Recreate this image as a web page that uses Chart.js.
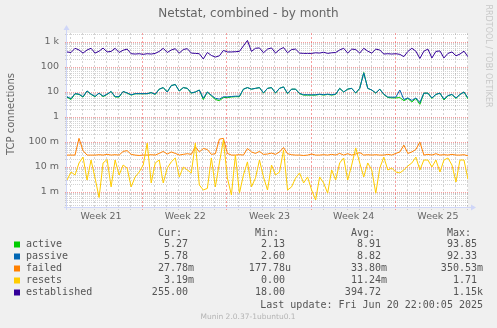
<!DOCTYPE html>
<html lang="en">
<head>
<meta charset="UTF-8">
<title>Netstat, combined - by month</title>
<style>
  body { margin: 0; background: #f0f0f0; }
  #wrap { position: relative; width: 497px; height: 328px; }
</style>
</head>
<body>
<div id="wrap"><canvas id="netstatChart"></canvas></div>

<script src="https://cdn.jsdelivr.net/npm/chart.js"></script>
<script>
// x axis is in days from the left edge of the graph, one sample every 1/3 day
const STEP = 1 / 3;
const weekLabels = ['Week 21', 'Week 22', 'Week 23', 'Week 24', 'Week 25'];
const weekStarts = [6.33, 13.33, 20.33, 27.33];
const yTickValues = [0.001, 0.01, 0.1, 1, 10, 100, 1000];
const yTickLabels = ['1 m', '10 m', '100 m', '1', '10', '100', '1 k'];

const active = [6.2, 5.0, 8.5, 8.0, 6.3, 11, 8, 6.5, 9, 6.5,
  8, 10.5, 6.3, 6.3, 10.5, 9, 7.5, 8.5, 8.5, 8.5,
  8.5, 9.5, 8, 13, 15, 10, 18, 20, 11, 15,
  14, 9, 10, 12, 5, 10, 7, 5, 4.5, 6,
  6, 6.3, 6.5, 6.5, 13, 15, 13, 14, 15, 9,
  14, 15, 9, 14, 16, 8.5, 13, 13, 8.5, 7.5,
  7.5, 7.5, 7.5, 8, 7.5, 8, 7.5, 8, 14, 10,
  13, 14, 9, 14, 60, 14, 12, 9, 13, 8,
  6, 5.8, 5.8, 6, 4.5, 5.5, 4, 5.5, 3.2, 9,
  9, 5.5, 8, 9, 4.8, 7, 8, 5.5, 8, 10, 5.3];

const passive = [6.5, 5.4, 8.6, 8.2, 6.5, 11, 8.2, 6.7, 9, 6.8,
  8.2, 10.5, 6.5, 6.6, 10.5, 9.2, 7.7, 8.6, 8.6, 8.6,
  8.6, 9.4, 8.2, 13, 15, 10, 18, 20, 11, 15,
  14, 9.2, 10, 12, 5.6, 10, 7.4, 5.6, 5.2, 6.4,
  6.4, 6.6, 6.8, 6.8, 13, 15, 13, 14, 15, 9.2,
  14, 15, 9.2, 14, 16, 8.8, 13, 13, 8.8, 7.8,
  7.8, 7.7, 7.8, 8.2, 7.8, 8.2, 7.8, 8.2, 14, 10,
  13, 14, 9.2, 14, 58, 14, 12, 9.2, 13, 8.2,
  6.3, 6.2, 6.2, 12, 5, 5.8, 4.6, 5.8, 3.8, 9,
  9, 5.8, 8, 9, 5.2, 7.2, 8, 5.8, 8, 10, 5.8];

const failed = [0.03, 0.03, 0.03, 0.14, 0.045, 0.03, 0.03, 0.03, 0.031, 0.03,
  0.032, 0.03, 0.031, 0.03, 0.042, 0.045, 0.032, 0.03, 0.029, 0.03,
  0.03, 0.031, 0.03, 0.035, 0.042, 0.033, 0.04, 0.035, 0.03, 0.032,
  0.034, 0.032, 0.065, 0.04, 0.055, 0.05, 0.032, 0.034, 0.13, 0.14,
  0.035, 0.03, 0.03, 0.031, 0.03, 0.055, 0.04, 0.035, 0.042, 0.032,
  0.033, 0.036, 0.032, 0.04, 0.06, 0.034, 0.031, 0.03, 0.03, 0.029,
  0.03, 0.033, 0.03, 0.03, 0.031, 0.03, 0.032, 0.03, 0.035, 0.03,
  0.034, 0.03, 0.033, 0.038, 0.03, 0.031, 0.03, 0.031, 0.03, 0.03,
  0.032, 0.03, 0.035, 0.04, 0.075, 0.035, 0.04, 0.05, 0.1, 0.03,
  0.032, 0.03, 0.034, 0.03, 0.031, 0.03, 0.032, 0.03, 0.03, 0.031, 0.028];

const resets = [0.003, 0.0063, 0.0048, 0.0145, 0.025, 0.003, 0.019, 0.0036, 0.0006, 0.0145,
  0.02, 0.0016, 0.019, 0.0048, 0.012, 0.009, 0.0016, 0.004, 0.0063, 0.012,
  0.09, 0.0023, 0.0145, 0.019, 0.0023, 0.009, 0.016, 0.023, 0.004, 0.01,
  0.0076, 0.0058, 0.09, 0.0019, 0.0012, 0.0014, 0.023, 0.0016, 0.0145, 0.12,
  0.0036, 0.00076, 0.03, 0.0009, 0.0048, 0.016, 0.0016, 0.0036, 0.019, 0.004,
  0.0012, 0.012, 0.0048, 0.0063, 0.048, 0.0012, 0.0016, 0.0036, 0.0058, 0.0023,
  0.004, 0.0012, 0.00048, 0.004, 0.0023, 0.0009, 0.0076, 0.003, 0.0145, 0.023,
  0.003, 0.012, 0.058, 0.0145, 0.004, 0.0145, 0.0076, 0.0009, 0.009, 0.025,
  0.0076, 0.009, 0.0063, 0.0058, 0.0076, 0.011, 0.0145, 0.025, 0.0076, 0.019,
  0.019, 0.01, 0.019, 0.0063, 0.019, 0.023, 0.012, 0.0025, 0.019, 0.019, 0.0032];

const established = [400, 380, 560, 480, 360, 480, 560, 360, 430, 570,
  400, 420, 560, 380, 470, 520, 340, 330, 340, 320,
  340, 330, 350, 420, 560, 380, 480, 540, 360, 500,
  540, 360, 350, 340, 210, 380, 290, 250, 280, 460,
  400, 400, 410, 420, 700, 1150, 420, 560, 580, 370,
  520, 580, 360, 500, 600, 370, 500, 520, 360, 350,
  350, 350, 370, 360, 390, 350, 370, 380, 480, 560,
  360, 520, 500, 360, 560, 430, 360, 520, 480, 330,
  340, 330, 340, 320, 260, 420, 560, 430, 220, 430,
  520, 230, 420, 440, 230, 350, 400, 280, 330, 430, 255];

const seriesNames = ['active', 'passive', 'failed', 'resets', 'established'];
const seriesColors = ['#00cc00', '#0066b3', '#ff8000', '#ffcc00', '#330099'];
const statHeaders = ['Cur:', 'Min:', 'Avg:', 'Max:'];
const statCur = ['5.27 ', '5.78 ', '27.78m', '3.19m', '255.00 '];
const statMin = ['2.13 ', '2.60 ', '177.78u', '0.00 ', '18.00 '];
const statAvg = ['8.91 ', '8.82 ', '33.80m', '11.24m', '394.72 '];
const statMax = ['93.85 ', '92.33 ', '350.53m', '1.71 ', '1.15k'];
const lastUpdate = 'Last update: Fri Jun 20 22:00:05 2025';

const toPoints = values => values.map((v, i) => ({ x: i * STEP, y: v }));
const seriesData = [active, passive, failed, resets, established];

const weekCenters = weekLabels.map((w, k) => k === 0 ? weekStarts[0] - 3.5 : weekStarts[k - 1] + 3.5);

function hline(ctx, x1, x2, y) {
    ctx.beginPath();
    ctx.moveTo(x1, y);
    ctx.lineTo(x2, y);
    ctx.stroke();
}

function vline(ctx, x, y1, y2) {
    ctx.beginPath();
    ctx.moveTo(x, y1);
    ctx.lineTo(x, y2);
    ctx.stroke();
}

const rrdPlugin = {
    id: 'rrdLook',
    beforeDraw(chart) {
        const { ctx, chartArea: a } = chart;
        ctx.save();
        ctx.fillStyle = '#f0f0f0';
        ctx.fillRect(0, 0, chart.width, chart.height);
        ctx.fillStyle = '#ffffff';
        ctx.fillRect(a.left, a.top, a.right - a.left, a.bottom - a.top);
        ctx.restore();
    },
    beforeDatasetsDraw(chart) {
        const { ctx, chartArea: a, scales: { x, y } } = chart;
        ctx.save();
        ctx.lineWidth = 1;
        ctx.setLineDash([1, 1]);

        // minor grid
        ctx.strokeStyle = 'rgba(140,140,140,0.38)';
        for (let e = -4; e <= 3; e++) {
            for (let m = 2; m <= 9; m++) {
                const v = m * Math.pow(10, e);
                if (v < y.min || v > y.max) continue;
                hline(ctx, a.left - 2, a.right, Math.round(y.getPixelForValue(v)) + 0.5);
            }
        }
        ctx.setLineDash([2, 2]);
        for (let t = weekStarts[0] % 1; t <= x.max + 0.01; t += 1) {
            if (weekStarts.some(w => Math.abs(w - t) < 0.01)) continue;
            const px = Math.round(x.getPixelForValue(t)) - 0.5;
            vline(ctx, px, a.top, a.bottom + 3);
        }

        // major grid
        ctx.setLineDash([1, 1]);
        ctx.strokeStyle = 'rgba(240,80,80,0.55)';
        yTickValues.forEach(v => {
            hline(ctx, a.left - 2, a.right, Math.round(y.getPixelForValue(v)) + 0.5);
        });
        ctx.setLineDash([2, 2]);
        weekStarts.forEach(t => {
            const px = Math.round(x.getPixelForValue(t)) - 0.5;
            vline(ctx, px, a.top, a.bottom + 3);
        });
        ctx.restore();
    },
    afterDraw(chart) {
        const { ctx, chartArea: a } = chart;
        ctx.save();

        // axes with arrows
        ctx.strokeStyle = '#cfd6f8';
        ctx.fillStyle = '#cfd6f8';
        ctx.lineWidth = 1;
        hline(ctx, a.left - 3, a.right + 4, a.bottom + 0.5);
        vline(ctx, a.left - 0.5, a.bottom + 3, a.top - 4);
        ctx.beginPath();
        ctx.moveTo(a.right + 8, a.bottom + 0.5);
        ctx.lineTo(a.right + 3, a.bottom - 2.5);
        ctx.lineTo(a.right + 3, a.bottom + 3.5);
        ctx.fill();
        ctx.beginPath();
        ctx.moveTo(a.left - 0.5, a.top - 8);
        ctx.lineTo(a.left - 3.5, a.top - 3);
        ctx.lineTo(a.left + 2.5, a.top - 3);
        ctx.fill();

        // title
        ctx.fillStyle = '#666666';
        ctx.textAlign = 'center';
        ctx.textBaseline = 'middle';
        ctx.font = '12px "DejaVu Sans"';
        ctx.fillText('Netstat, combined - by month', 248.5, 14);

        // vertical axis title
        ctx.save();
        ctx.translate(11, 114);
        ctx.rotate(-Math.PI / 2);
        ctx.font = '10px "DejaVu Sans"';
        ctx.fillText('TCP connections', 0, 0);
        ctx.restore();

        // watermark
        ctx.save();
        ctx.translate(488.5, 56);
        ctx.rotate(Math.PI / 2);
        ctx.fillStyle = '#c8c8c8';
        ctx.font = '8px "DejaVu Sans"';
        ctx.fillText('RRDTOOL / TOBI OETIKER', 0, 0);
        ctx.restore();

        // legend table
        const colRight = [194, 291, 387, 483];
        const stats = [statCur, statMin, statAvg, statMax];
        ctx.font = '10px "DejaVu Sans Mono"';
        ctx.fillStyle = '#555555';
        ctx.textAlign = 'right';
        statHeaders.forEach((h, k) => ctx.fillText(h, colRight[k] - 12, 233));
        seriesNames.forEach((name, r) => {
            const ry = 244.5 + r * 12;
            ctx.fillStyle = seriesColors[r];
            ctx.fillRect(14, ry - 3, 6, 6);
            ctx.fillStyle = '#555555';
            ctx.textAlign = 'left';
            ctx.fillText(name, 26, ry);
            ctx.textAlign = 'right';
            stats.forEach((col, k) => ctx.fillText(col[r], colRight[k], ry));
        });
        ctx.fillText(lastUpdate, 483, 305);

        ctx.textAlign = 'center';
        ctx.fillStyle = '#b4b4b4';
        ctx.font = '7.5px "DejaVu Sans"';
        ctx.fillText('Munin 2.0.37-1ubuntu0.1', 248, 317);
        ctx.restore();
    }
};

const ctx = document.getElementById('netstatChart').getContext('2d');

const netstatChart = new Chart(ctx, {
    type: 'line',
    data: {
        datasets: seriesNames.map((name, k) => ({
            label: name,
            data: toPoints(seriesData[k]),
            borderColor: seriesColors[k],
            backgroundColor: seriesColors[k],
            borderWidth: 1,
            pointRadius: 0,
            tension: 0,
            fill: false,
            order: seriesNames.length - k
        }))
    },
    options: {
        responsive: true,
        maintainAspectRatio: false,
        animation: false,
        devicePixelRatio: 1,
        layout: { padding: { left: 0, right: 29, top: 33, bottom: 101 } },
        plugins: {
            legend: { display: false },
            tooltip: { enabled: false }
        },
        scales: {
            x: {
                type: 'linear',
                min: 0,
                max: (active.length - 1) * STEP,
                grid: { display: false, drawTicks: false },
                border: { display: false },
                afterFit: scale => { scale.height = 20; },
                afterBuildTicks: scale => { scale.ticks = weekCenters.map(v => ({ value: v })); },
                ticks: {
                    autoSkip: false,
                    maxRotation: 0,
                    padding: 4,
                    color: '#666666',
                    font: { family: 'DejaVu Sans', size: 9.5 },
                    callback: (v, i) => weekLabels[i]
                }
            },
            y: {
                type: 'logarithmic',
                min: Math.pow(10, -3.6),
                max: Math.pow(10, 3.36),
                grid: { display: false, drawTicks: false },
                border: { display: false },
                afterFit: scale => { scale.width = 67; },
                afterBuildTicks: scale => { scale.ticks = yTickValues.map(v => ({ value: v })); },
                ticks: {
                    autoSkip: false,
                    padding: 8,
                    color: '#666666',
                    font: { family: 'DejaVu Sans', size: 9.5 },
                    callback: (v, i) => yTickLabels[i]
                }
            }
        }
    },
    plugins: [rrdPlugin]
});
</script>
</body>
</html>
